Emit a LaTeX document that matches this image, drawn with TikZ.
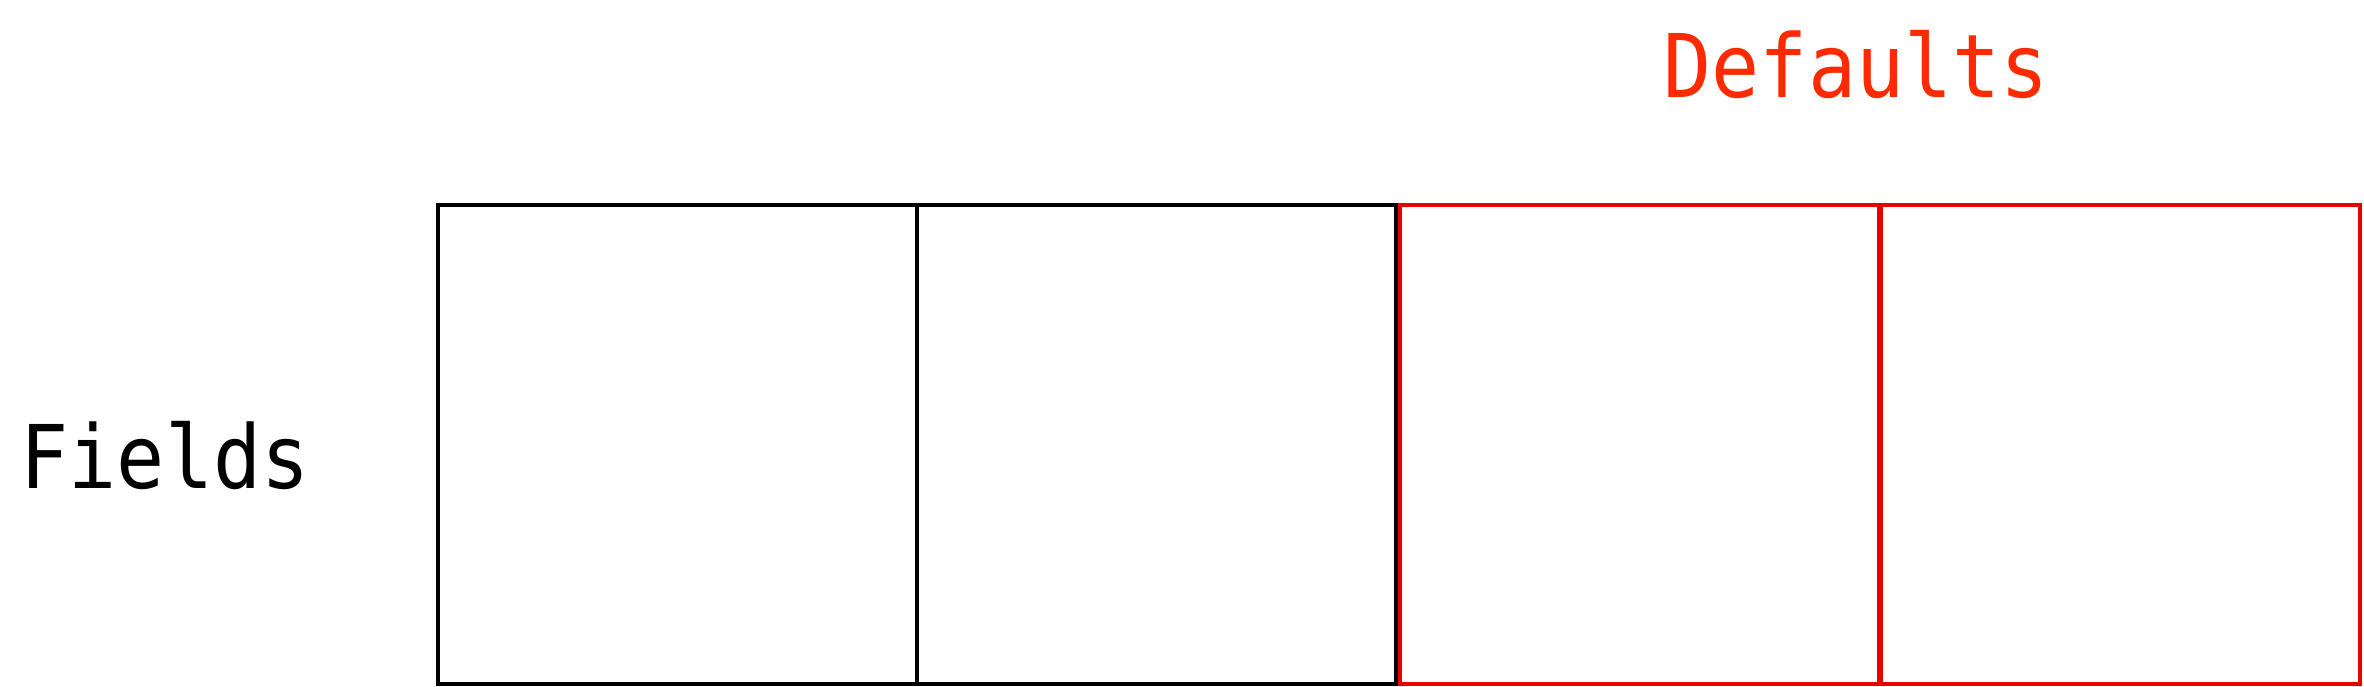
\documentclass[tikz,border=0pt]{standalone}
\usepackage{fontspec}
\setmonofont{DejaVu Sans Mono}
\usepackage{xcolor}
\usetikzlibrary{positioning}
\definecolor{defred}{RGB}{232,0,0}
\definecolor{deftext}{RGB}{255,42,0}

\begin{document}
\begin{tikzpicture}[
    font=\ttfamily\fontsize{25}{30}\selectfont,
    cell/.style={rectangle, draw=black, line width=0.9pt, minimum width=4.79cm,
      minimum height=4.79cm, inner sep=0pt, outer sep=0pt},
    defcell/.style={cell, draw=defred},
    lab/.style={inner sep=0pt, anchor=base west}
  ]
  \useasboundingbox (0,0) rectangle (23.64,6.87);
  \node[cell] (f1) at (6.775,2.425) {};
  \node[cell, right=0pt of f1] (f2) {};
  \node[defcell, right=0.04cm of f2] (d1) {};
  \node[defcell, right=0.02cm of d1] (d2) {};
  \node[lab] (fields) at (0.20,1.98) {\scalebox{0.91}[1]{Fields}};
  \node[lab, text=deftext] (defaults) at (16.63,5.89) {\scalebox{0.91}[1]{Defaults}};
\end{tikzpicture}
\end{document}
